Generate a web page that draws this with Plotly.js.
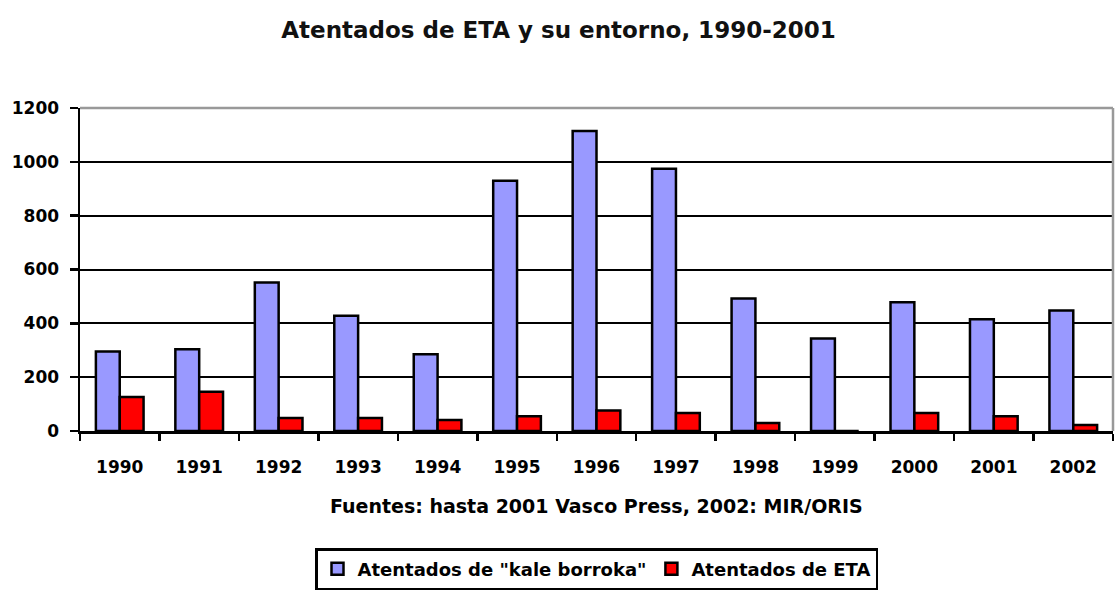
<!DOCTYPE html>
<html>
<head>
<meta charset="utf-8">
<script src="https://cdn.plot.ly/plotly-3.0.1.min.js"></script>
<style>html,body{margin:0;padding:0;background:#fff;}#chart{width:1117px;height:592px;}</style>
</head>
<body>
<div id="chart"></div>
<script>
const years = ["1990","1991","1992","1993","1994","1995","1996","1997","1998","1999","2000","2001","2002"];
const kaleBorroka = [295, 304, 552, 428, 285, 930, 1115, 974, 492, 344, 478, 415, 448];
const eta = [126, 146, 48, 48, 41, 55, 76, 67, 30, 0, 67, 55, 22];
const yTicks = [0, 200, 400, 600, 800, 1000, 1200];

const F = "DejaVu Sans, Liberation Sans, Arial, sans-serif";
const traces = [
  {type:"bar", name:"<b>Atentados de \"kale borroka\"</b>", x:years, y:kaleBorroka,
   marker:{color:"#9999FF", line:{color:"#000", width:2.5}}},
  {type:"bar", name:"<b>Atentados de ETA</b>", x:years, y:eta,
   marker:{color:"#FF0000", line:{color:"#000", width:2.5}}}
];
const layout = {
  width:1117, height:592,
  margin:{l:80, r:4, t:108, b:160},
  paper_bgcolor:"#fff", plot_bgcolor:"#fff",
  font:{family:F, color:"#000"},
  barmode:"group", bargap:0.4, bargroupgap:0,
  title:{text:"<b>Atentados de ETA y su entorno, 1990-2001</b>", font:{size:23, family:F, color:"#111"},
         xref:"container", x:0.5, xanchor:"center", yref:"container", y:0.949, yanchor:"middle"},
  xaxis:{type:"category", showgrid:false, showline:true, linecolor:"#000", linewidth:2.5,
         ticks:"outside", tickson:"boundaries", ticklen:7, tickwidth:2.5, tickcolor:"#000",
         ticklabelstandoff:19,
         tickfont:{size:17, family:F}, tickprefix:"<b>", ticksuffix:"</b>", zeroline:false},
  yaxis:{range:[0,1200], tickvals:yTicks, ticktext:yTicks.map(v=>"<b>"+v+"</b>"),
         showgrid:true, gridcolor:"#000", gridwidth:2, showline:true, linecolor:"#000", linewidth:2.5,
         ticks:"outside", ticklen:8, tickwidth:2.5, tickcolor:"#000", zeroline:false,
         ticklabelstandoff:7,
         tickfont:{size:17, family:F}},
  showlegend:true,
  legend:{orientation:"h", xref:"paper", x:0.5, xanchor:"center", yref:"paper", y:-0.488, yanchor:"bottom",
          bordercolor:"#000", borderwidth:2.5, bgcolor:"#fff", font:{size:18, family:F}, traceorder:"normal"},
  annotations:[{text:"<b>Fuentes: hasta 2001 Vasco Press, 2002: MIR/ORIS</b>", xref:"paper", yref:"paper",
                x:0.5, y:-0.233, xanchor:"center", yanchor:"middle", showarrow:false, font:{size:19, family:F}}],
  shapes:[
    {type:"line", xref:"paper", yref:"paper", x0:0, x1:1, y0:1, y1:1, line:{color:"#999", width:2.5}, layer:"above"},
    {type:"line", xref:"paper", yref:"paper", x0:1, x1:1, y0:0, y1:1, line:{color:"#999", width:2.5}, layer:"above"}
  ]
};
Plotly.newPlot("chart", traces, layout, {displayModeBar:false, staticPlot:true});
</script>
</body>
</html>
